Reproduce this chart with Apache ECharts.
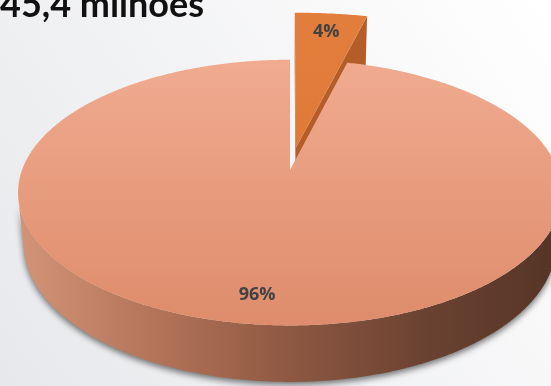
<!DOCTYPE html>
<html>
<head>
<meta charset="utf-8">
<script src="https://cdn.jsdelivr.net/npm/echarts@6/dist/echarts.min.js"></script>
<style>
  html, body { margin: 0; padding: 0; background: #ffffff; }
  #chart { width: 551px; height: 386px; }
</style>
</head>
<body>
<div id="chart"></div>
<script>
// Slices, in clockwise order starting at 12 o'clock
const categories = ['Parcela menor', 'Parcela maior'];
const values = [4, 96];
const labels = values.map(v => v + '%');
const titleText = '45,4 milhões';

// Per-slice appearance
const explode = [0.18, 0];
const radiusScale = [1.36, 1];
const topColors = [
  ['#E4803F', '#DA7332'],
  ['#F0AB90', '#DE8C6B']
];
const sideColors = [
  ['#B9612C', '#A3542A'],
  ['#D39478', '#B47459', '#8E5842', '#6A4231', '#553425']
];
const cutColors = ['#B45D29', '#8E5842'];

// Tilted-disc camera: screen centre, half axes, perspective strength, thickness
const VIEW = { cx: 290, cy: 170, rx: 268, ry: 129, persp: 0.17, thick: 0.218 };
const sinA = VIEW.ry / VIEW.rx;
const cosA = Math.sqrt(1 - sinA * sinA);
const D = cosA / VIEW.persp;
const F = VIEW.rx * D;

function project(X, Y, Z) {
  const depth = D - Y * sinA - Z * cosA;
  return [VIEW.cx + F * X / depth, VIEW.cy - F * (Y * cosA - Z * sinA) / depth];
}

const rad = d => d * Math.PI / 180;

function renderItem(params, api) {
  const i = params.dataIndex;
  const total = values.reduce((a, b) => a + b, 0);
  let before = 0;
  for (let j = 0; j < i; j++) before += values[j];
  const a0 = before / total * 360;
  const a1 = (before + api.value(0)) / total * 360;
  const mid = rad((a0 + a1) / 2);
  const e = explode[i], k = radiusScale[i];
  const ox = e * Math.sin(mid), oz = -e * Math.cos(mid);
  const H = -VIEW.thick * k;

  const rim = (deg, Y) => project(ox + k * Math.sin(rad(deg)), Y, oz - k * Math.cos(rad(deg)));
  const hub = Y => project(ox, Y, oz);

  const children = [];
  const minX = VIEW.cx - VIEW.rx * 1.02, maxX = VIEW.cx + VIEW.rx * 1.02;

  // radial cut faces that turn toward the camera
  const camZ = D * cosA;
  const faceAt = (deg, sign) => {
    const t = rad(deg);
    const nx = sign * Math.cos(t), nz = sign * Math.sin(t);
    const dot = nx * (0 - ox) + nz * (camZ - oz);
    if (dot > 1e-6) {
      children.push({
        type: 'polygon',
        shape: { points: [hub(0), rim(deg, 0), rim(deg, H), hub(H)] },
        style: { fill: cutColors[i] }
      });
    }
  };
  if (a1 - a0 < 360) {
    faceAt(a0, -1);
    faceAt(a1, 1);
  }

  // outer wall, only the runs facing the camera
  const step = 0.5;
  const facing = deg => {
    const t = rad(deg);
    return -k - ox * Math.sin(t) + Math.cos(t) * (oz - camZ) > 0;
  };
  let run = [];
  const flush = () => {
    if (run.length > 1) {
      const pts = run.map(d => rim(d, 0)).concat(run.slice().reverse().map(d => rim(d, H)));
      children.push({
        type: 'polygon',
        shape: { points: pts },
        style: {
          fill: {
            type: 'linear', x: minX, y: 0, x2: maxX, y2: 0, global: true,
            colorStops: sideColors[i].map((c, n, arr) => ({ offset: n / (arr.length - 1), color: c }))
          },
          shadowBlur: 6,
          shadowOffsetY: 3,
          shadowColor: 'rgba(45,45,45,0.65)'
        }
      });
    }
    run = [];
  };
  for (let d = a0; d <= a1 + 1e-9; d += step) {
    const dd = Math.min(d, a1);
    if (facing(dd)) run.push(dd); else flush();
  }
  flush();

  // top face
  const topPts = [hub(0)];
  for (let d = a0; d <= a1 + 1e-9; d += step) topPts.push(rim(Math.min(d, a1), 0));
  topPts.push(rim(a1, 0));
  const topY0 = VIEW.cy - VIEW.ry * 1.6, topY1 = VIEW.cy + VIEW.ry * 1.2;
  children.push({
    type: 'polygon',
    shape: { points: topPts },
    style: {
      fill: {
        type: 'linear', x: 0, y: i === 0 ? topY0 : VIEW.cy - VIEW.ry * 0.85, x2: 0, y2: topY1, global: true,
        colorStops: [{ offset: 0, color: topColors[i][0] }, { offset: 1, color: topColors[i][1] }]
      }
    }
  });

  // value label on the top face
  const lr = 0.84 * k;
  const lp = project(ox + lr * Math.sin(mid), 0, oz - lr * Math.cos(mid));
  children.push({
    type: 'text',
    style: {
      text: labels[i],
      x: lp[0], y: lp[1],
      align: 'center', verticalAlign: 'middle',
      font: 'bold 18px "Open Sans", Lato, sans-serif',
      fill: '#424242'
    }
  });

  return { type: 'group', children };
}

const chart = echarts.init(document.getElementById('chart'), null, { renderer: 'canvas' });
chart.setOption({
  animation: false,
  backgroundColor: {
    type: 'linear', x: 1, y: 0, x2: 0, y2: 1,
    colorStops: [{ offset: 0, color: '#FFFFFF' }, { offset: 1, color: '#E7E8EB' }]
  },
  title: {
    text: titleText,
    left: 0,
    top: -13,
    padding: 0,
    textStyle: { fontFamily: 'Lato', fontWeight: 'bold', fontSize: 36, color: '#111111' }
  },
  series: [{
    type: 'custom',
    coordinateSystem: 'none',
    silent: true,
    renderItem,
    data: values.map((v, i) => ({ name: categories[i], value: v }))
  }]
});
</script>
</body>
</html>
